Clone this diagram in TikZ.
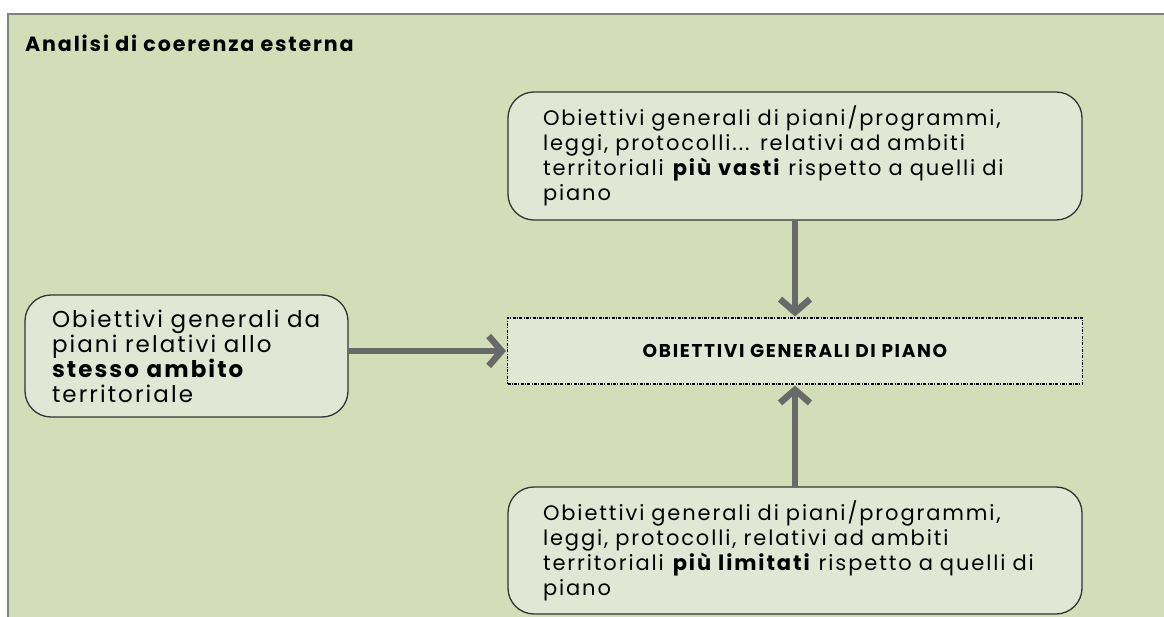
\documentclass[tikz,border=0pt]{standalone}
\definecolor{panelgreen}{RGB}{211, 221, 184}
\definecolor{boxgreen}{RGB}{225, 231, 212}
\definecolor{framegray}{RGB}{130, 130, 120}
\definecolor{arrowgray}{RGB}{105, 105, 105}
\usepackage{fontspec}
\setmainfont[LetterSpace=9]{Poppins}
\usepackage{tikz}
\usetikzlibrary{arrows.meta, positioning, calc}

\tikzset{
  goalbox/.style={draw=black!80, fill=boxgreen, line width=1.3pt, rounded corners=26pt,
    align=left, inner ysep=6pt, font=\fontsize{21}{25}\selectfont},
  mainbox/.style={draw=black, fill=boxgreen, line width=1.1pt,
    dash pattern=on 3pt off 1.3pt on 1pt off 1.3pt,
    minimum width=575pt, minimum height=66pt, font=\bfseries\fontsize{18.5}{20}\selectfont},
  flow/.style={draw=arrowgray, line width=6.5pt,
    -{Straight Barb[length=13pt, width=30pt]}, shorten >=1pt}
}

\begin{document}
\begin{tikzpicture}[x=1pt, y=-1pt]
  \useasboundingbox (0, 0) rectangle (1164, 617);

  % Panel
  \fill[white] (0, 0) rectangle (1164, 617);
  \filldraw[fill=panelgreen, draw=framegray, line width=1.8pt] (8, 14) rectangle (1175, 630);

  % Title
  \node[anchor=west, inner xsep=0pt, font=\bfseries\fontsize{20.6}{22}\selectfont] (title) at (25, 43) {Analisi di coerenza esterna};

  % Central box
  \node[mainbox] (piano) at (795, 351) {OBIETTIVI GENERALI DI PIANO};

  % Boxes round it
  \node[goalbox, text width=504pt, inner xsep=35pt, minimum height=128pt] (vasti) at (795, 156) {
    Obiettivi generali di piani/programmi,\\
    leggi, protocolli... relativi ad ambiti\\
    territoriali \textbf{più vasti} rispetto a quelli di\\
    piano};

  \node[goalbox, text width=269pt, inner xsep=27pt, minimum height=122pt,
    font=\fontsize{23}{25}\selectfont] (stesso) at (186.5, 356) {
    Obiettivi generali da\\
    piani relativi allo\\
    \textbf{stesso ambito}\\
    territoriale};

  \node[goalbox, text width=504pt, inner xsep=35pt, minimum height=127pt] (limitati) at (795, 550.5) {
    Obiettivi generali di piani/programmi,\\
    leggi, protocolli,  relativi ad ambiti\\
    territoriali \textbf{più limitati} rispetto a quelli di\\
    piano};

  % Arrows
  \draw[flow] (vasti.south) -- (piano.north);
  \draw[flow] (limitati.north) -- (piano.south);
  \draw[flow] (stesso.east |- piano.west) -- (piano.west);
\end{tikzpicture}
\end{document}
